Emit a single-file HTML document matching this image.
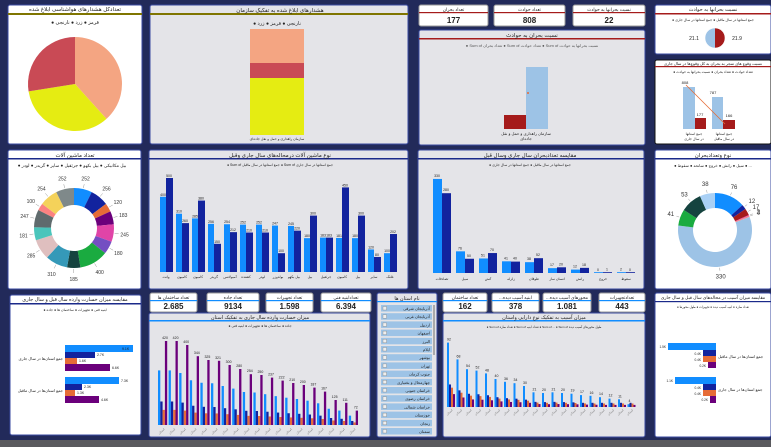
<!DOCTYPE html>
<html><head><meta charset="utf-8"><style>
html,body{margin:0;padding:0;background:#222a5a;}
svg{display:block;font-family:"Liberation Sans","DejaVu Sans",sans-serif;}
</style></head><body>
<svg id="s" width="771" height="447" viewBox="0 0 771 447" xmlns="http://www.w3.org/2000/svg">
<rect width="771" height="447" fill="#222a5a"/>
<rect x="0" y="440" width="771" height="7" fill="#5a5a5e"/>
<g font-size="5" text-anchor="middle" fill="#222">
<rect x="8" y="5" width="134" height="139" rx="2" fill="#fff" stroke="#3a4aa0"/>
<rect x="8" y="13" width="134" height="2" fill="#7f7500"/>
<text x="75" y="11" font-size="5.5">تعدادکل هشدارهای هواشناسی ابلاغ شده</text>
<text x="75" y="24" font-size="5">● قرمز ● زرد ● نارنجی</text>
<g id="pie1"></g>
<rect x="150" y="5" width="258" height="139" rx="2" fill="#e4e4e8" stroke="#3a4aa0"/>
<rect x="150" y="13" width="258" height="2" fill="#7f7500"/>
<text x="280" y="12" font-size="5.5">هشدارهای ابلاغ شده به تفکیک سازمان</text>
<text x="277" y="25" font-size="5">● نارنجی ● قرمز ● زرد</text>
<rect x="250" y="29" width="54" height="34" fill="#f4a582"/>
<rect x="250" y="63" width="54" height="15" fill="#c94a55"/>
<rect x="250" y="78" width="54" height="57" fill="#e5ec12"/>
<text x="277" y="140" font-size="3.5">سازمان راهداری و حمل و نقل جاده‌ای</text>
<g id="kpis"></g>
<rect x="419" y="30" width="226" height="115" rx="2" fill="#e4e4e8" stroke="#3a4aa0"/>
<rect x="419" y="38" width="226" height="1.5" fill="#a51b1b"/>
<text x="532" y="37" font-size="5.5">نسبت بحران به حوادث</text>
<text x="532" y="47" font-size="4" fill="#555">● Sum of تعداد بحران ● Sum of تعداد حوادث ● Sum of نسبت بحرانها به حوادث</text>
<rect x="504" y="115" width="22" height="14" fill="#a51b1b"/>
<rect x="526" y="67" width="22" height="62" fill="#9dc3e6"/>
<circle cx="528" cy="93" r="1" fill="#e66c37"/>
<text x="526" y="135" font-size="4">سازمان راهداری و حمل و نقل</text>
<text x="526" y="140" font-size="4">جاده‌ای</text>
<rect x="655" y="5" width="116" height="49" rx="2" fill="#fff" stroke="#3a4aa0"/>
<rect x="655" y="13" width="116" height="1.5" fill="#a51b1b"/>
<text x="713" y="11" font-size="5">نسبت بحرانها به حوادث</text>
<text x="713" y="21" font-size="3.5">● جمع استانها در سال ماقبل ● جمع استانها در سال جاری</text>
<path d="M715,28 A10,10 0 0,0 715,48 Z" fill="#9dc3e6"/>
<path d="M715,28 A10,10 0 0,1 715,48 Z" fill="#a51b1b"/>
<circle cx="715" cy="38" r="10" fill="none" stroke="#fff" stroke-width=".5"/>
<text x="694" y="40" font-size="5">21.1</text><text x="737" y="40" font-size="5">21.9</text>
<rect x="655" y="60" width="116" height="84" rx="2" fill="#fff" stroke="#111"/>
<rect x="655" y="66" width="116" height="1.2" fill="#a51b1b"/>
<text x="713" y="65" font-size="4">نسبت وقوع های منجر به بحران به کل وقوع‌ها در سال جاری</text>
<text x="713" y="73" font-size="3.5">● تعداد حوادث ● تعداد بحران ● نسبت بحرانها به حوادث</text>
<rect x="683" y="87" width="12" height="42" fill="#9dc3e6"/><rect x="695" y="118" width="11" height="11" fill="#a51b1b"/>
<rect x="712" y="97" width="11" height="32" fill="#9dc3e6"/><rect x="723" y="120" width="12" height="9" fill="#a51b1b"/>
<line x1="686" y1="85" x2="725" y2="124" stroke="#e66c37" stroke-width=".8"/>
<text x="685" y="84" font-size="4">808</text><text x="713" y="94" font-size="4">787</text>
<text x="700" y="116" font-size="4">177</text><text x="729" y="117" font-size="4">166</text>
<text x="694" y="135" font-size="3.5">جمع استانها</text><text x="694" y="140" font-size="3.5">در سال جاری</text>
<text x="724" y="135" font-size="3.5">جمع استانها</text><text x="724" y="140" font-size="3.5">در سال ماقبل</text>

<rect x="8" y="150" width="133" height="139" rx="2" fill="#fff" stroke="#3a4aa0"/>
<rect x="8" y="158" width="133" height="1.5" fill="#1b2a8a"/>
<text x="75" y="157" font-size="5.5">تعداد ماشین آلات</text>
<text x="72" y="167" font-size="4.5">● بیل مکانیکی ● بیل بکهو ● جرثقیل ● سایر ● گریدر ● لودر</text>
<g id="don1"></g>
<rect x="149" y="150" width="259" height="139" rx="2" fill="#e4e4e8" stroke="#3a4aa0"/>
<rect x="149" y="158" width="259" height="1.5" fill="#1b2a8a"/>
<text x="280" y="157" font-size="5.5">نوع ماشین آلات درمحاله‌های سال جاری وقبل</text>
<text x="280" y="166" font-size="3.5">● Sum of جمع استانها در سال ماقبل ● Sum of جمع استانها در سال جاری</text>
<g id="mach"></g>
<rect x="418" y="150" width="226" height="139" rx="2" fill="#e4e4e8" stroke="#3a4aa0"/>
<rect x="418" y="158" width="226" height="1.5" fill="#1b2a8a"/>
<text x="530" y="157" font-size="5.5">مقایسه تعدادبحران سال جاری وسال قبل</text>
<text x="530" y="166" font-size="3.5">● جمع استانها در سال ماقبل ● جمع استانها در سال جاری</text>
<g id="comp"></g>
<rect x="655" y="150" width="116" height="139" rx="2" fill="#fff" stroke="#3a4aa0"/>
<rect x="655" y="158" width="116" height="1.5" fill="#1b2a8a"/>
<text x="713" y="157" font-size="5.5">نوع وتعدادبحران</text>
<text x="713" y="167" font-size="4">● سیل ● رانش ● خروج ● سانحه ● سقوط ● ...</text>
<g id="don2"></g>

<rect x="10" y="295" width="131" height="140" rx="2" fill="#fff" stroke="#3a4aa0"/>
<rect x="10" y="303" width="131" height="1.5" fill="#1b2a8a"/>
<text x="75" y="301" font-size="5">مقایسه میزان خسارت وارده سال قبل و سال جاری</text>
<text x="75" y="311" font-size="3.5">● ابنیه فنی ● تجهیزات ● ساختمان ها ● جاده</text>
<rect x="65" y="345" width="68" height="7" fill="#118dff"/><rect x="65" y="352" width="30" height="6" fill="#12239e"/>
<rect x="65" y="358" width="12" height="6" fill="#e66c37"/><rect x="65" y="364" width="45" height="7" fill="#6b007b"/>
<rect x="65" y="377" width="54" height="7" fill="#118dff"/><rect x="65" y="384" width="17" height="6" fill="#12239e"/>
<rect x="65" y="390" width="10" height="6" fill="#e66c37"/><rect x="65" y="396" width="34" height="7" fill="#6b007b"/>
<g font-size="3.5" text-anchor="start"><text x="122" y="350">9.1K</text><text x="97" y="356">2.7K</text><text x="79" y="362">1.6K</text><text x="112" y="369">6.6K</text>
<text x="121" y="382">7.3K</text><text x="84" y="388">2.3K</text><text x="77" y="394">1.3K</text><text x="101" y="401">4.6K</text></g>
<g font-size="4" text-anchor="end"><text x="63" y="360">جمع استان‌ها در سال جاری</text><text x="63" y="392">جمع استان‌ها در سال ماقبل</text></g>

<rect x="149" y="313" width="221" height="124" rx="2" fill="#e4e4e8" stroke="#3a4aa0"/>
<rect x="149" y="320" width="221" height="1.5" fill="#118dff"/>
<text x="260" y="319" font-size="5">میزان خسارت وارده سال جاری به تفکیک استان</text>
<text x="260" y="327" font-size="3.5">● جاده ● ساختمان ها ● تجهیزات ● ابنیه فنی</text>
<g id="dmg"></g>

<rect x="377" y="293" width="60" height="144" rx="2" fill="#e4e4e8" stroke="#3a4aa0"/>
<rect x="377" y="301" width="60" height="1.2" fill="#118dff"/>
<text x="407" y="300" font-size="5">نام استان ها</text>
<g id="slc"></g>

<rect x="443" y="313" width="202" height="124" rx="2" fill="#e4e4e8" stroke="#3a4aa0"/>
<rect x="443" y="320" width="202" height="1.5" fill="#118dff"/>
<text x="544" y="319" font-size="5">میزان آسیب به تفکیک نوع دارایی واستان</text>
<text x="544" y="328" font-size="3">● Sum of تعداد سازه ● Sum of تعداد ابنیه ● Sum of ... ● Sum of طول محورهای آسیب دیده</text>
<g id="ast"></g>

<rect x="655" y="293" width="116" height="144" rx="2" fill="#fff" stroke="#3a4aa0"/>
<rect x="655" y="301" width="116" height="1.2" fill="#1b2a8a"/>
<text x="713" y="299" font-size="4.5">مقایسه میزان آسیب در محاله‌های سال قبل و سال جاری</text>
<text x="713" y="308" font-size="3">● تعداد سازه ● ابنیه آسیب دیده ● تجهیزات ● طول محورها</text>
<rect x="668" y="343" width="48" height="7" fill="#118dff"/><rect x="703" y="350" width="13" height="6" fill="#12239e"/>
<rect x="703" y="356" width="13" height="6" fill="#e66c37"/><rect x="708" y="362" width="8" height="6" fill="#6b007b"/>
<rect x="675" y="377" width="41" height="7" fill="#118dff"/><rect x="703" y="384" width="13" height="6" fill="#12239e"/>
<rect x="703" y="390" width="13" height="6" fill="#e66c37"/><rect x="710" y="396" width="6" height="7" fill="#6b007b"/>
<g font-size="3.2" text-anchor="end"><text x="666" y="348">1.5K</text><text x="701" y="355">0.4K</text><text x="701" y="361">0.4K</text><text x="706" y="367">0.2K</text>
<text x="673" y="382">1.1K</text><text x="701" y="389">0.4K</text><text x="701" y="395">0.4K</text><text x="708" y="401">0.2K</text></g>
<g font-size="4" text-anchor="start"><text x="718" y="358">جمع استان‌ها در سال ماقبل</text><text x="718" y="391">جمع استان‌ها در سال جاری</text></g>
</g>
</svg>
<script>
var S=document.getElementById('s'),NS='http://www.w3.org/2000/svg';
function el(p,t,a,txt){var e=document.createElementNS(NS,t);for(var k in a)e.setAttribute(k,a[k]);if(txt!=null)e.textContent=txt;document.getElementById(p).appendChild(e);return e;}
function pt(cx,cy,r,a){a=(a-90)*Math.PI/180;return [cx+r*Math.cos(a),cy+r*Math.sin(a)];}
function arc(p,cx,cy,r0,r1,a0,a1,c){var l=a1-a0>180?1:0,A=pt(cx,cy,r1,a0),B=pt(cx,cy,r1,a1),C=pt(cx,cy,r0,a1),D=pt(cx,cy,r0,a0);
var d='M'+A+' A'+r1+','+r1+' 0 '+l+',1 '+B+(r0>0?' L'+C+' A'+r0+','+r0+' 0 '+l+',0 '+D:' L'+cx+','+cy)+'Z';el(p,'path',{d:d,fill:c});}
arc('pie1',75,84,0,47,0,138,'#f4a582');arc('pie1',75,84,0,47,138,261,'#e5ec12');arc('pie1',75,84,0,47,261,360,'#c94a55');
[[419,488,'تعداد بحران','177'],[494,565,'تعداد حوادث','808'],[573,645,'نسبت بحرانها به حوادث','22']].forEach(function(k){
el('kpis','rect',{x:k[0],y:5,width:k[1]-k[0],height:21,rx:2,fill:'#fff',stroke:'#999'});el('kpis','rect',{x:k[0],y:12,width:k[1]-k[0],height:1.2,fill:'#a51b1b'});
el('kpis','text',{x:(k[0]+k[1])/2,y:11,'font-size':4.5},k[2]);el('kpis','text',{x:(k[0]+k[1])/2,y:23,'font-size':8,'font-weight':'bold'},k[3]);});
function kpi(p,x0,x1,y,lab,v){el(p,'rect',{x:x0,y:y,width:x1-x0,height:19,rx:2,fill:'#fff',stroke:'#999'});el(p,'rect',{x:x0,y:y+7,width:x1-x0,height:1.2,fill:'#118dff'});
el(p,'text',{x:(x0+x1)/2,y:y+6,'font-size':4.5},lab);el(p,'text',{x:(x0+x1)/2,y:y+16,'font-size':8,'font-weight':'bold'},v);}
kpi('kpis',150,197,293,'تعداد ساختمان ها','2.685');kpi('kpis',207,259,293,'تعداد جاده','9134');kpi('kpis',266,313,293,'تعداد تجهیزات','1.598');kpi('kpis',321,371,293,'تعدادابنیه فنی','6.394');
kpi('kpis',443,487,293,'تعداد ساختمان','162');kpi('kpis',492,539,293,'...ابنیه آسیب دیده','378');kpi('kpis',543,591,293,'...محورهای آسیب دیده','1.081');kpi('kpis',599,645,293,'تعدادتجهیزات','443');
var dv=[[252,'#118dff'],[256,'#12239e'],[120,'#e66c37'],[183,'#6b007b'],[245,'#e044a7'],[180,'#744ec2'],[400,'#1aab40'],[185,'#15433f'],[310,'#3599b8'],[285,'#dfbfbf'],[181,'#4ac5bb'],[247,'#5f6b6d'],[100,'#fb8281'],[254,'#f4d25a'],[252,'#7f898a']];
function donut(p,cx,cy,r0,r1,vals,fs,lr){var t=0;vals.forEach(function(v){t+=v[0]});var a=0;vals.forEach(function(v){var b=a+v[0]/t*360;arc(p,cx,cy,r0,r1,a,b,v[1]);
var m=(a+b)/2,q=pt(cx,cy,lr,m),q1=pt(cx,cy,r1+1,m),q2=pt(cx,cy,lr-6,m);
el(p,'line',{x1:q1[0],y1:q1[1],x2:q2[0],y2:q2[1],stroke:'#999','stroke-width':.5});
el(p,'text',{x:q[0],y:q[1]+2,'font-size':fs,'fill':'#333'},v[0]);a=b;});}
donut('don1',74,228,23,40,dv,5,51);
donut('don2',715,230,22,37,[[76,'#118dff'],[12,'#12239e'],[17,'#a51b1b'],[2,'#e044a7'],[3,'#fb8281'],[330,'#9dc3e6'],[41,'#1aab40'],[53,'#15433f'],[38,'#a9d0f5']],6,47);
var mb=[[400,500],[310,260],[285,380],[256,150],[254,212],[252,210],[252,210],[247,100],[245,220],[180,300],[183,183],[181,450],[180,300],[120,80],[100,202]];
var ml=['وانت','کامیون','کامیون','گریدر','آمبولانس','کشنده','لودر','بولدوزر','بیل بکهو','بیل','جرثقیل','کامیون','بیل','سایر','غلتک'];
mb.forEach(function(v,i){var x=160+i*16;var s=.188,b=272;
el('mach','rect',{x:x,y:b-v[0]*s,width:6,height:v[0]*s,fill:'#118dff'});el('mach','rect',{x:x+6,y:b-v[1]*s,width:7,height:v[1]*s,fill:'#12239e'});
el('mach','text',{x:x+3,y:b-v[0]*s-1,'font-size':3.5},v[0]);el('mach','text',{x:x+9,y:b-v[1]*s-1,'font-size':3.5},v[1]);
el('mach','text',{x:x+6,y:278,'font-size':3.5},ml[i]);});
var cb=[[330,280],[76,50],[51,70],[41,40],[38,52],[17,20],[12,18],[0,1],[2,0]];
var cl=['تصادفات','سیل','آتش','زلزله','طوفان','انسان ساز','رانش','خروج','سقوط'];
cb.forEach(function(v,i){var x=433+i*23,s=.285,b=273;
el('comp','rect',{x:x,y:b-Math.max(v[0]*s,.8),width:9,height:Math.max(v[0]*s,.8),fill:'#118dff'});el('comp','rect',{x:x+9,y:b-Math.max(v[1]*s,.8),width:9,height:Math.max(v[1]*s,.8),fill:'#12239e'});
el('comp','text',{x:x+4,y:b-v[0]*s-2,'font-size':3.5},v[0]);el('comp','text',{x:x+13,y:b-v[1]*s-2,'font-size':3.5},v[1]);
el('comp','text',{x:x+9,y:280,'font-size':3.5},cl[i]);});
var pv=[420,420,400,344,325,321,300,280,254,250,237,222,210,200,187,167,125,111,72];
for(var i=0;i<19;i++){var x=158+i*10.6,b=425,s=.2,p=pv[i];
var vals=[[p*.65,'#118dff'],[p*.28,'#12239e'],[p*.18,'#e66c37'],[p,'#6b007b']];
vals.forEach(function(v,j){el('dmg','rect',{x:x+j*2.3,y:b-v[0]*s,width:2.3,height:v[0]*s,fill:v[1]});});
el('dmg','text',{x:x+7,y:b-p*s-2,'font-size':3.5},p);
el('dmg','text',{x:x+4,y:432,'font-size':3,fill:'#777',transform:'rotate(-40 '+(x+4)+' 432)'},'استان');}
var names=['آذربایجان شرقی','آذربایجان غربی','اردبیل','اصفهان','البرز','ایلام','بوشهر','تهران','جنوب کرمان','چهارمحال و بختیاری','خراسان جنوبی','خراسان رضوی','خراسان شمالی','خوزستان','زنجان','سمنان'];
names.forEach(function(n,i){var y=305+i*8.2;if(y>432)return;el('slc','rect',{x:381,y:y,width:51,height:6.5,fill:'#9dc3e6'});
el('slc','rect',{x:383,y:y+1.5,width:3.5,height:3.5,fill:'#eee',stroke:'#888','stroke-width':.4});el('slc','text',{x:430,y:y+5,'font-size':4,'text-anchor':'end'},n);});
el('slc','rect',{x:433,y:305,width:2,height:50,fill:'#aaa'});
var av=[92,68,54,52,48,40,36,34,30,21,20,21,20,19,17,16,14,12,11,4];
av.forEach(function(v,i){var x=447+i*9.5,b=407,s=.7;var d=[v,Math.max(v*.35,6),Math.max(v*.3,5),Math.max(v*.2,3)],c=['#118dff','#12239e','#e66c37','#6b007b'];
d.forEach(function(h,j){el('ast','rect',{x:x+j*2,y:b-h*s,width:2,height:h*s,fill:c[j]});});
el('ast','text',{x:x+2,y:b-v*s-2,'font-size':3.5},v);
el('ast','text',{x:x+3,y:413,'font-size':3,fill:'#777',transform:'rotate(-40 '+(x+3)+' 413)'},'استان');});
</script>
</body></html>
